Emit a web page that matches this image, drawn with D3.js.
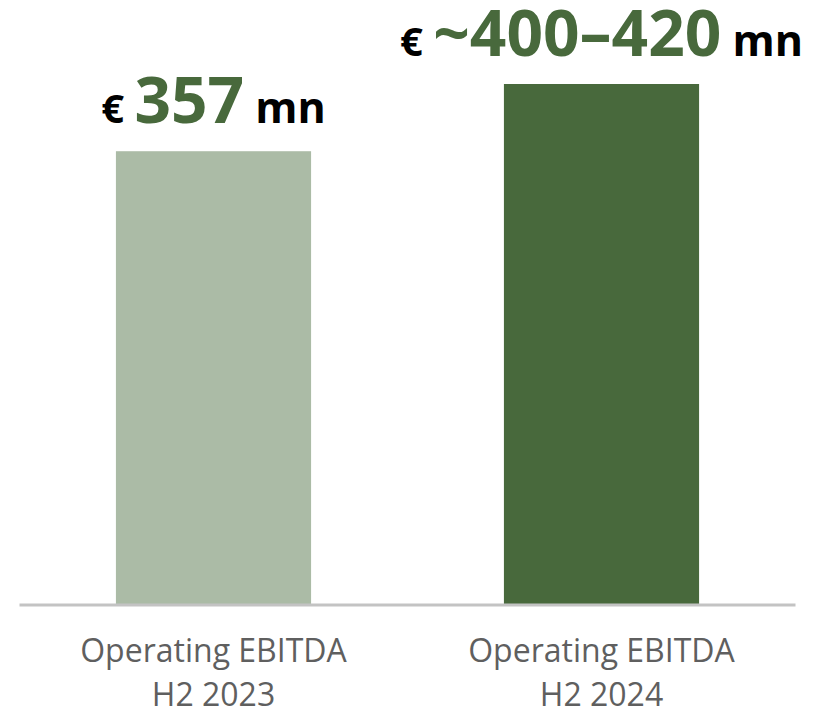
<!DOCTYPE html>
<html><head><meta charset="utf-8">
<script src="https://cdn.jsdelivr.net/npm/d3@7"></script>
<style>body{margin:0;background:#fff;} svg{display:block;}</style>
</head><body>
<svg id="chart" width="820" height="710"></svg>
<script>
const categories = ["Operating EBITDA|H2 2023", "Operating EBITDA|H2 2024"];
const values = [357, 410];
const valueLabels = ["357", "~400–420"];
const barColors = ["#abbba6", "#48693c"];

const svg = d3.select("#chart");
const x = d3.scaleBand().domain(categories).range([19.5, 795.5]).paddingInner(0.497).paddingOuter(0.2485);
const y = d3.scaleLinear().domain([0, 410]).range([604, 84]);

svg.selectAll("rect.bar").data(values).join("rect")
  .attr("class", "bar")
  .attr("x", (d, i) => x(categories[i]))
  .attr("width", x.bandwidth())
  .attr("y", d => y(d))
  .attr("height", d => y(0) - y(d))
  .attr("fill", (d, i) => barColors[i]);

svg.append("line").attr("x1", 19.5).attr("x2", 795.5).attr("y1", 605).attr("y2", 605)
  .attr("stroke", "#c3c3c3").attr("stroke-width", 3);

const lab = svg.selectAll("text.val").data(values).join("text")
  .attr("class", "val")
  .attr("x", (d, i) => x(categories[i]) + x.bandwidth() / 2)
  .attr("y", d => y(d) - 28)
  .attr("text-anchor", "middle")
  .attr("font-family", "Open Sans")
  .attr("font-weight", "bold");
lab.append("tspan").text("€ ").attr("font-size", 40).attr("fill", "#000");
lab.append("tspan").text((d, i) => valueLabels[i]).attr("font-size", 64).attr("fill", "#48693c");
lab.append("tspan").text(" mn").attr("font-size", 43).attr("fill", "#000");

const cat = svg.selectAll("text.cat").data(categories).join("text")
  .attr("class", "cat")
  .attr("text-anchor", "middle")
  .attr("font-family", "Open Sans")
  .attr("font-size", 32)
  .attr("fill", "#5f5f5f");
cat.each(function(d) {
  const t = d3.select(this);
  const cx = x(d) + x.bandwidth() / 2;
  d.split("|").forEach((line, j) => {
    t.append("tspan").attr("x", cx).attr("y", 662 + j * 44).text(line);
  });
});
</script>
</body></html>
